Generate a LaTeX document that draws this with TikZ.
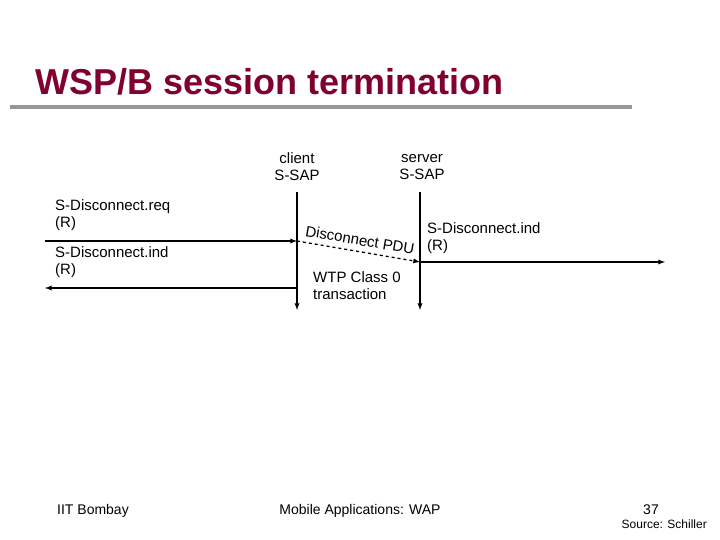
\documentclass[tikz,border=0pt]{standalone}
\usepackage{fontspec}
\setmainfont{Liberation Sans}
\definecolor{titlered}{RGB}{128,0,48}
\definecolor{rulegray}{RGB}{150,150,150}
\begin{document}
\begin{tikzpicture}[x=1pt,y=-1pt,
  txt/.style={font=\fontsize{15}{17}\selectfont,inner sep=0pt,align=left},
  ln/.style={line width=1.3pt},
  arr/.style={ln,-latex}]
\useasboundingbox (0,0) rectangle (720,540);
\node[anchor=west,inner sep=0pt,text=titlered,font=\fontsize{36}{40}\selectfont\bfseries] (title) at (35,82) {WSP/B session termination};
\draw[rulegray,line width=4pt] (10,107) -- (632,107);
\node[txt,align=center] (cl) at (297,167) {client\\S-SAP};
\node[txt,align=center] (sv) at (422,167) {server\\S-SAP};
\coordinate (c0) at (297,192); \coordinate (c1) at (297,310);
\coordinate (s0) at (420,192); \coordinate (s1) at (420,310);
\draw[arr] (c0) -- (c1);
\draw[arr] (s0) -- (s1);
\coordinate (a0) at (45,241); \coordinate (a1) at (297,241);
\coordinate (b0) at (420,262); \coordinate (b1) at (665,262);
\coordinate (d0) at (297,288); \coordinate (d1) at (45,288);
\draw[arr] (a0) -- (a1);
\draw[arr,dashed] (a1) -- (b0);
\draw[arr] (b0) -- (b1);
\draw[arr] (d0) -- (d1);
\node[txt,anchor=west] (req) at (55,215) {S-Disconnect.req\\(R)};
\node[txt,anchor=west] (ind1) at (55,262) {S-Disconnect.ind\\(R)};
\node[txt,anchor=west] (ind2) at (427,238) {S-Disconnect.ind\\(R)};
\node[txt,rotate=-9.7] (pdu) at (360,240) {Disconnect PDU};
\node[txt,anchor=west] (wtp) at (313,286) {WTP Class 0\\transaction};
\node[txt,anchor=west,font=\fontsize{14}{16}\selectfont] (f1) at (57,511) {IIT Bombay};
\node[txt,font=\fontsize{14}{16}\selectfont] (f2) at (360,511) {Mobile Applications: WAP};
\node[txt,font=\fontsize{14}{16}\selectfont] (f3) at (651,510) {37};
\node[txt,anchor=east,font=\fontsize{12}{14}\selectfont] (f4) at (707,524) {Source: Schiller};
\end{tikzpicture}
\end{document}
